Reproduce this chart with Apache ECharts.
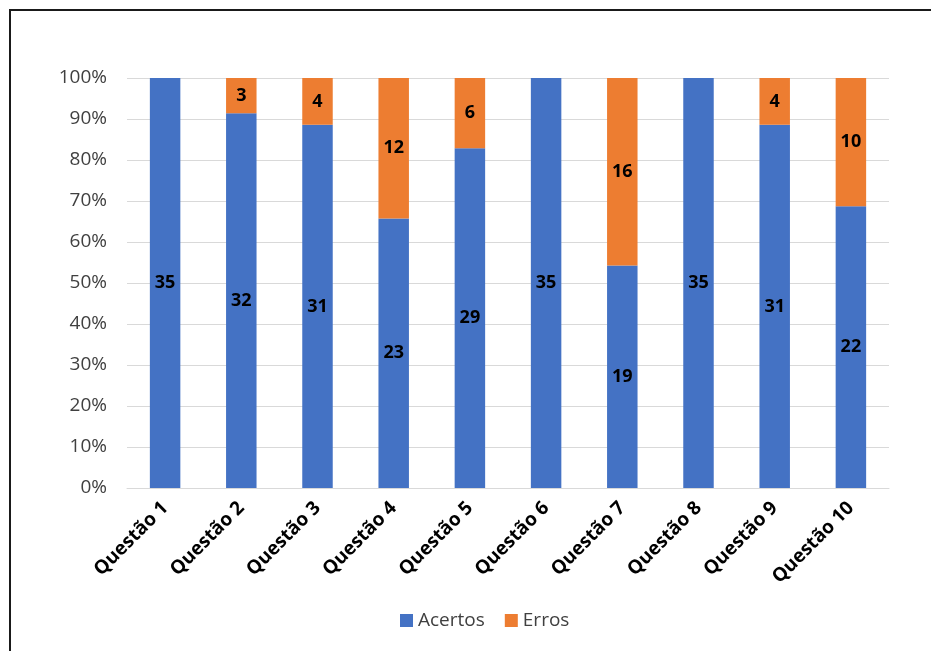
<!DOCTYPE html>
<html>
<head>
<meta charset="utf-8">
<script src="https://cdn.jsdelivr.net/npm/echarts@6/dist/echarts.min.js"></script>
<style>
  html, body { margin: 0; padding: 0; background: #fff; }
  #chart { width: 931px; height: 651px; }
</style>
</head>
<body>
<div id="chart"></div>
<script>
// Answers per question: correct vs wrong counts
const categories = ['Questão 1', 'Questão 2', 'Questão 3', 'Questão 4', 'Questão 5',
                    'Questão 6', 'Questão 7', 'Questão 8', 'Questão 9', 'Questão 10'];
const acertos = [35, 32, 31, 23, 29, 35, 19, 35, 31, 22];
const erros   = [0, 3, 4, 12, 6, 0, 16, 0, 4, 10];
const yTicks  = [0, 10, 20, 30, 40, 50, 60, 70, 80, 90, 100];

// Share of each count in its question's total (100% stacked)
const totals = categories.map((_, i) => acertos[i] + erros[i]);
const pct = (arr) => arr.map((v, i) => ({ value: v / totals[i] * 100, count: v }));

const font = 'Open Sans, Noto Sans, sans-serif';
const labelStyle = {
  show: true,
  position: 'inside',
  fontFamily: font,
  fontWeight: 'bold',
  fontSize: 18,
  color: '#000',
  formatter: (p) => (p.data.count > 0 ? String(p.data.count) : '')
};

const chart = echarts.init(document.getElementById('chart'));
chart.setOption({
  animation: false,
  backgroundColor: '#fff',
  graphic: [{
    type: 'polyline',
    shape: { points: [[10, 651], [10, 10], [931, 10]] },
    style: { stroke: '#1a1a1a', lineWidth: 2, fill: null }
  }],
  grid: { left: 127, right: 42, top: 78, bottom: 163, containLabel: false },
  legend: {
    data: ['Acertos', 'Erros'],
    top: 606,
    left: 395,
    itemWidth: 13,
    itemHeight: 13,
    itemGap: 20,
    icon: 'rect',
    textStyle: { fontFamily: font, fontSize: 19, color: '#404040' }
  },
  xAxis: {
    type: 'category',
    data: categories,
    axisLine: { show: true, lineStyle: { color: '#d9d9d9', width: 1 } },
    axisTick: { show: false },
    axisLabel: {
      rotate: 45,
      interval: 0,
      margin: 17,
      fontFamily: font,
      fontWeight: 'bold',
      fontSize: 19,
      color: '#000'
    }
  },
  yAxis: {
    type: 'value',
    min: 0,
    max: 100,
    interval: 10,
    axisLine: { show: false },
    axisTick: { show: false },
    splitLine: { lineStyle: { color: '#d9d9d9', width: 1 } },
    axisLabel: {
      margin: 20,
      fontFamily: font,
      fontSize: 19,
      color: '#404040',
      formatter: (v) => (yTicks.includes(v) ? v + '%' : '')
    }
  },
  series: [
    {
      name: 'Acertos',
      type: 'bar',
      stack: 'total',
      barWidth: '40%',
      itemStyle: { color: '#4472c4' },
      label: labelStyle,
      data: pct(acertos)
    },
    {
      name: 'Erros',
      type: 'bar',
      stack: 'total',
      barWidth: '40%',
      itemStyle: { color: '#ed7d31' },
      label: labelStyle,
      data: pct(erros)
    }
  ]
});
</script>
</body>
</html>
